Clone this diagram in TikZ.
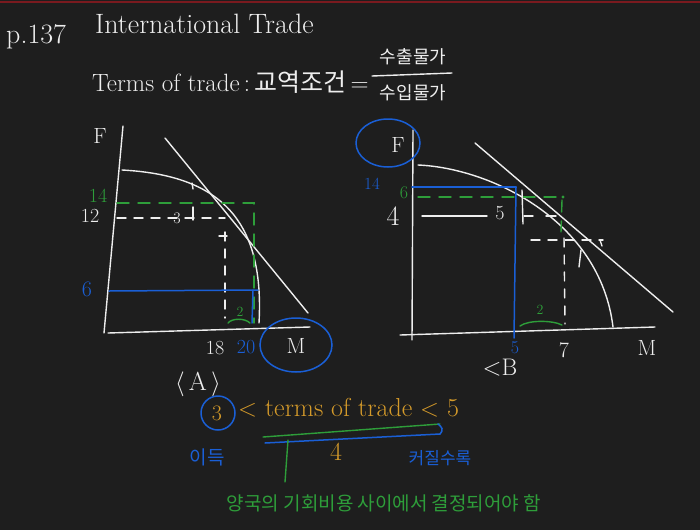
\documentclass[tikz,border=0pt]{standalone}
\usepackage{fontspec}
\newfontfamily\kr{Noto Sans CJK KR}
\usetikzlibrary{arrows.meta}
\definecolor{bg}{HTML}{1E1E1E}
\definecolor{wh}{HTML}{EEEEEE}
\definecolor{bl}{HTML}{1A5FD6}
\definecolor{gr}{HTML}{2E9E3A}
\definecolor{gd}{HTML}{D49A2A}
\definecolor{rd}{HTML}{7A1A1F}
\begin{document}
\begin{tikzpicture}[x=1pt,y=-1pt,
  wl/.style={draw=wh, line width=1.4pt, line cap=round},
  bline/.style={draw=bl, line width=1.5pt, line cap=round},
  gline/.style={draw=gr, line width=1.4pt, line cap=round},
  wdash/.style={wl, dash pattern=on 9pt off 8pt},
  gdash/.style={gline, dash pattern=on 12pt off 9pt},
  lbl/.style={inner sep=0pt, text=wh},
  fs/.style={font=\fontsize{#1}{#1}\selectfont}]
\fill[bg] (0,0) rectangle (700,530);
\useasboundingbox (0,0) rectangle (700,530);
\draw[rd, line width=2pt] (0,2) -- (700,2);

% header
\node[lbl, anchor=west, fs=28] (pg) at (6,37) {p.137};
\node[lbl, anchor=west, fs=28] (title) at (95,24) {International Trade};
\node[lbl, anchor=west, fs=25] (tot) at (92,82) {Terms of trade\,:\,{\kr 교역조건}\,=};
\node[lbl, fs=18] (num) at (413,57) {\kr 수출물가};
\node[lbl, fs=18] (den) at (413,93) {\kr 수입물가};
\draw[wl] (372,76) -- (452,73);

% ---------- Graph A ----------
\coordinate (A0) at (104,333);
\coordinate (Atop) at (123,126);
\coordinate (Aend) at (310,327);
\draw[wl] (A0) -- (Atop);
\draw[wl] (108,333) -- (Aend);
\node[lbl, fs=22] (AF) at (100,136) {F};
\draw[wl] (122,170) .. controls (215,175) and (265,215) .. (259,323);
\draw[wl] (165,138) -- (308,313);
% green
\draw[gdash] (117,203) -- (254,203) -- (254,323);
\node[lbl, text=gr, fs=20] (A14) at (98,196) {14};
\node[lbl, fs=20] (A12) at (90,216) {12};
% white
\draw[wdash] (117,218) -- (225,218);
\draw[wdash] (225,232) -- (225,318);
\draw[wl] (193,207) -- (193,220);
\draw[wl] (192,183) -- (193,189);
\draw[wl] (219,236) -- (227,236);
\node[lbl, fs=16] (A3) at (177,218) {3};
% blue
\draw[bline] (109,291) -- (258,290);
\draw[bline] (253,290) -- (252,323);
\node[lbl, text=bl, fs=22] (A6) at (87,289) {6};
% green 2
\node[lbl, text=gr, fs=14] (A2) at (240,312) {2};
\draw[gline] (228,323) .. controls (232,318) and (245,318) .. (250,323);
% axis labels
\node[lbl, fs=20] (A18) at (215,348) {18};
\node[lbl, text=bl, fs=20] (A20) at (246,347) {20};
\node[lbl, fs=22] (AM) at (296,346) {M};
\draw[bline] (296,345) ellipse [x radius=36, y radius=27];
\node[lbl, fs=26] (Alab) at (198,384) {$\langle\,$A$\,\rangle$};

% ---------- Graph B ----------
\draw[wl] (412,340) -- (413,130);
\draw[wl] (400,335) -- (655,327);
\node[lbl, fs=22] (BF) at (398,145) {F};
\draw[bline] (388,143) ellipse [x radius=32, y radius=24];
\draw[wl] (418,165) .. controls (490,168) and (600,220) .. (613,327);
\draw[wl] (475,143) -- (673,312);
% blue
\draw[bline] (412,187) -- (516,187);
\draw[bline] (516,187) -- (514,338);
\node[lbl, text=bl, fs=17] (B14) at (372,184) {14};
\node[lbl, text=bl, fs=18] (B5) at (515,348) {5};
% green
\draw[gdash] (418,197) -- (563,197);
\fill[gr] (563,197) circle (1.6pt);
\draw[gdash] (562,200) -- (561,232);
\node[lbl, text=gr, fs=18] (B6) at (404,193) {6};
% white
\node[lbl, fs=28] (B4) at (393,216) {4};
\draw[wl] (422,216) -- (487,216);
\node[lbl, fs=20] (B5w) at (500,213) {5};
\draw[wl] (522,190) -- (523,224);
\draw[wl] (524,216) -- (533,216);
\draw[wl] (546,216) -- (556,216);
\draw[wdash] (531,240) -- (603,240);
\draw[wl] (600,240) -- (602,246);
\draw[wdash] (564,238) -- (565,324);
\draw[wl] (581,250) -- (579,267);
\node[lbl, text=gr, fs=14] (B2) at (540,310) {2};
\draw[gline] (520,326) .. controls (528,320) and (552,320) .. (562,325);
\node[lbl, fs=22] (B7) at (564,350) {7};
\node[lbl, fs=22] (BM) at (647,348) {M};
\node[lbl, fs=24] (Blab) at (500,368) {$<$B};

% ---------- bottom ----------
\node[lbl, text=gd, fs=22] (three) at (217,413) {3};
\draw[bline] (218,413) circle (17);
\node[lbl, text=gd, fs=26, anchor=west] (ineq) at (238,408) {$<$ terms of trade $<$ 5};
\draw[gline] (263,437) -- (440,424);
\draw[bline] (265,443) -- (440,434);
\draw[bline] (440,434) .. controls (444,430) and (442,427) .. (438,424);
\draw[gline] (288,440) -- (285,482);
\node[lbl, text=gd, fs=26] (four) at (336,452) {4};
\node[lbl, text=bl, fs=19] (gain) at (207,457) {\kr 이득};
\node[lbl, text=bl, fs=17] (more) at (440,458) {\kr 커질수록};
\node[lbl, text=gr, fs=19] (concl) at (384,503) {\kr 양국의 기회비용 사이에서 결정되어야 함};
\end{tikzpicture}
\end{document}
